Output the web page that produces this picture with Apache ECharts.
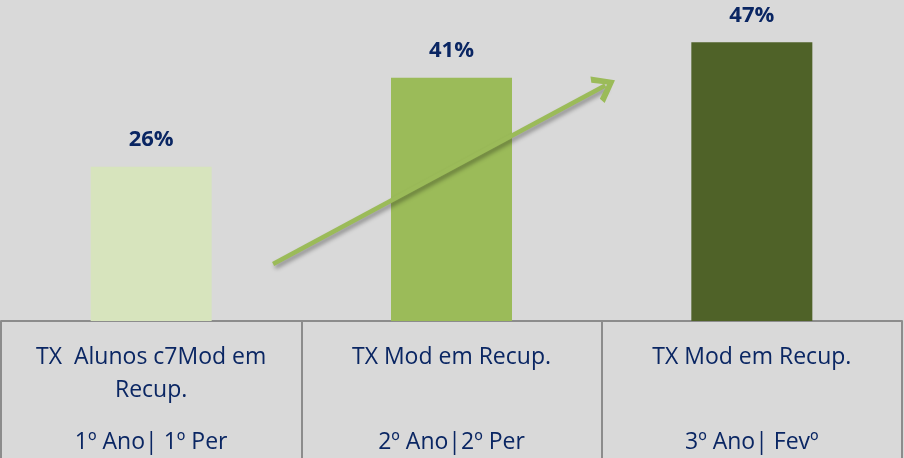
<!DOCTYPE html>
<html>
<head>
<meta charset="utf-8">
<script src="https://cdn.jsdelivr.net/npm/echarts@6/dist/echarts.min.js"></script>
<style>
html,body{margin:0;padding:0;background:#d9d9d9;}
#c{width:904px;height:458px;}
</style>
</head>
<body>
<div id="c"></div>
<script>
// ---- data ----
const titles = ['TX  Alunos c7Mod em\nRecup.', 'TX Mod em Recup.', 'TX Mod em Recup.'];
const periods = ['1º Ano| 1º Per', '2º Ano|2º Per', '3º Ano| Fevº'];
const values = [26, 41, 47];
const barColors = ['#d7e4bd', '#9bbb59', '#4f6228'];
// trend arrow endpoints (x in category units 0..3, y in %)
const arrowStart = [0.906, 9.6];
const arrowEnd = [2.012, 39.7];

const textColor = '#0a2663';
const font = '"Open Sans", "Liberation Sans", sans-serif';

const chart = echarts.init(document.getElementById('c'), null, {renderer: 'canvas'});

const option = {
  backgroundColor: '#d9d9d9',
  animation: false,
  grid: {left: 1, right: 2, top: 24.5, bottom: 137, containLabel: false, outerBoundsMode: 'none'},
  xAxis: [{
    type: 'category',
    data: titles.map((t, i) => i),
    axisLine: {show: true, lineStyle: {color: '#8c8c8c', width: 2}},
    axisTick: {show: true, interval: 0, length: 137, lineStyle: {color: '#8c8c8c', width: 2}},
    axisLabel: {
      interval: 0,
      margin: 19.5,
      color: textColor,
      fontFamily: font,
      fontSize: 23,
      lineHeight: 33,
      formatter: function (v, i) {
        let t = titles[i];
        if (t.split('\n').length < 2) t += '\n ';
        return t + '\n{d|' + periods[i] + '}';
      },
      rich: {d: {color: textColor, fontFamily: font, fontSize: 23, lineHeight: 71}}
    },
    splitLine: {show: false}
  }, {
    type: 'value', min: 0, max: 3, show: false
  }],
  yAxis: {type: 'value', min: 0, max: 50, show: false, splitLine: {show: false}},
  series: [{
    type: 'bar',
    barWidth: 121,
    data: values.map((v, i) => ({value: v, itemStyle: {color: barColors[i]}})),
    label: {
      show: true, position: 'top', distance: 16,
      formatter: p => p.value + '%',
      color: textColor, fontFamily: font, fontWeight: 'bold', fontSize: 22
    }
  }, {
    type: 'line',
    xAxisIndex: 1,
    data: [arrowStart, arrowEnd],
    symbol: 'none',
    lineStyle: {opacity: 0},
    silent: true,
    markLine: {
      silent: true,
      symbol: ['none', 'path://M0,22 L10,0 L20,22 L16,24.5 L10,10 L4,24.5 Z'],
      symbolSize: [30, 22],
      label: {show: false},
      lineStyle: {
        color: '#9bbb59', width: 4.5, type: 'solid',
        shadowColor: 'rgba(0,0,0,0.35)', shadowBlur: 4, shadowOffsetX: 2, shadowOffsetY: 3
      },
      itemStyle: {color: '#9bbb59', shadowColor: 'rgba(0,0,0,0.35)', shadowBlur: 4, shadowOffsetX: 2, shadowOffsetY: 3},
      data: [[{coord: arrowStart}, {coord: arrowEnd}]]
    }
  }]
};
chart.setOption(option);
</script>
</body>
</html>
